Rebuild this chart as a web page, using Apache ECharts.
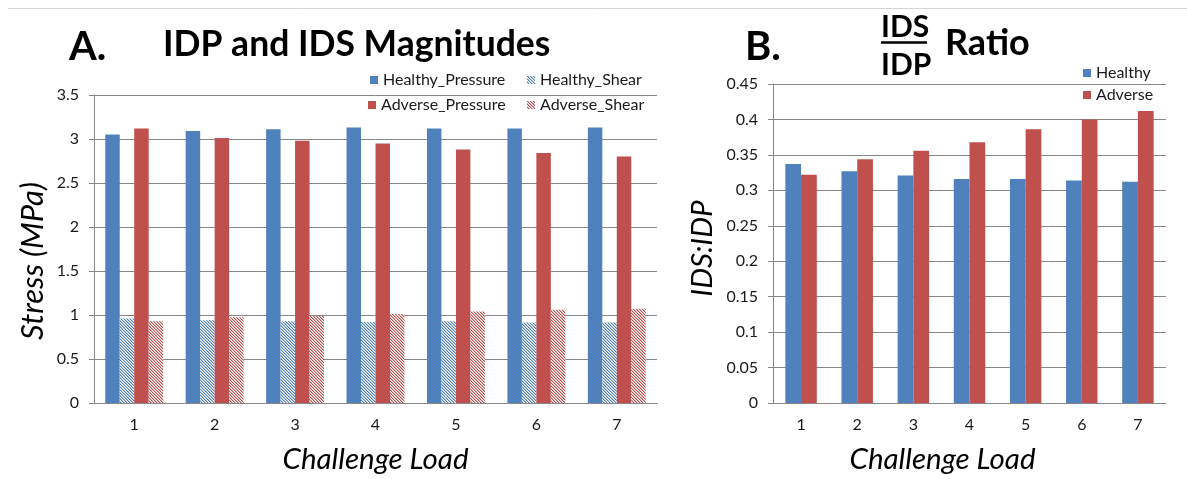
<!DOCTYPE html>
<html><head><meta charset="utf-8">
<script src="https://cdn.jsdelivr.net/npm/echarts@6/dist/echarts.min.js"></script>
<style>html,body{margin:0;padding:0;background:#fff}#c{width:1187px;height:479px}</style>
</head><body><div id="c"></div>
<script>
const categories = ['1','2','3','4','5','6','7'];
const healthyPressure = [3.05, 3.09, 3.11, 3.13, 3.12, 3.12, 3.13];
const healthyShear    = [0.96, 0.94, 0.93, 0.92, 0.93, 0.915, 0.915];
const adversePressure = [3.12, 3.01, 2.98, 2.95, 2.88, 2.84, 2.80];
const adverseShear    = [0.93, 0.975, 0.99, 1.01, 1.04, 1.06, 1.07];
const ratioHealthy = [0.337, 0.327, 0.321, 0.316, 0.316, 0.314, 0.312];
const ratioAdverse = [0.322, 0.344, 0.356, 0.368, 0.386, 0.400, 0.412];

const BLUE = '#4F81BD', RED = '#C0504D';
const FONT = 'Lato';
const AX = '#878787';

function hatch(color){
  const c = document.createElement('canvas'); c.width = 3; c.height = 3;
  const ctx = c.getContext('2d');
  ctx.fillStyle = '#fff'; ctx.fillRect(0,0,3,3);
  ctx.fillStyle = color;
  for (let y=0;y<3;y++) for (let x=0;x<3;x++) if ((((x-y)%3)+3)%3 === 0) ctx.fillRect(x,y,1,1);
  ctx.globalAlpha = 0.45;
  for (let y=0;y<3;y++) for (let x=0;x<3;x++) if ((((x-y)%3)+3)%3 === 1) ctx.fillRect(x,y,1,1);
  return {image: c, repeat: 'repeat'};
}

const chart = echarts.init(document.getElementById('c'), null, {renderer:'canvas'});
const lblStyle = {color:'#1a1a1a', fontFamily:FONT, fontSize:16};
const nameStyle = {color:'#000', fontFamily:FONT, fontSize:29.5, fontStyle:'italic'};

function mkLegend(name, left, top){
  return {data:[name], left:left, top:top, padding:0, itemWidth:8, itemHeight:8, icon:'rect',
    textStyle:{color:'#1a1a1a', fontFamily:FONT, fontSize:16}, selectedMode:false};
}

const option = {
  animation:false,
  backgroundColor:'#fff',
  grid:[
    {left:94, right:530, top:95, bottom:72},
    {left:773, right:21, top:84, bottom:71}
  ],
  legend:[
    mkLegend('Healthy_Pressure', 370, 72),
    mkLegend('Healthy_Shear', 527, 72),
    mkLegend('Adverse_Pressure', 368, 97),
    mkLegend('Adverse_Shear', 527, 97),
    mkLegend('Healthy', 1083, 65),
    mkLegend('Adverse', 1083, 87)
  ],
  xAxis:[
    {type:'category', gridIndex:0, data:categories,
     axisLine:{lineStyle:{color:AX}}, axisTick:{length:5, lineStyle:{color:AX}},
     axisLabel:Object.assign({margin:14}, lblStyle),
     name:'Challenge Load', nameLocation:'middle', nameGap:41, nameTextStyle:nameStyle},
    {type:'category', gridIndex:1, data:categories,
     axisLine:{lineStyle:{color:AX}}, axisTick:{length:5, lineStyle:{color:AX}},
     axisLabel:Object.assign({margin:14}, lblStyle),
     name:'Challenge Load', nameLocation:'middle', nameGap:41,
     nameTextStyle:Object.assign({padding:[0,54,0,0]}, nameStyle)}
  ],
  yAxis:[
    {type:'value', gridIndex:0, min:0, max:3.5, interval:0.5,
     axisLine:{show:true, lineStyle:{color:AX}}, axisTick:{show:true, length:5, lineStyle:{color:AX}},
     splitLine:{lineStyle:{color:AX}},
     axisLabel:Object.assign({margin:15}, lblStyle),
     name:'Stress (MPa)', nameLocation:'middle', nameRotate:90, nameGap:46,
     nameTextStyle:Object.assign({padding:[0,24,0,0]}, nameStyle, {fontSize:31})},
    {type:'value', gridIndex:1, min:0, max:0.45, interval:0.05,
     axisLine:{show:true, lineStyle:{color:AX}}, axisTick:{show:true, length:5, lineStyle:{color:AX}},
     splitLine:{lineStyle:{color:AX}},
     axisLabel:Object.assign({margin:15, formatter:v=>String(+v.toFixed(2))}, lblStyle),
     name:'IDS:IDP', nameLocation:'middle', nameRotate:90, nameGap:56,
     nameTextStyle:Object.assign({padding:[0,10,0,0]}, nameStyle)}
  ],
  series:[
    {name:'Healthy_Pressure', type:'bar', xAxisIndex:0, yAxisIndex:0, data:healthyPressure,
     itemStyle:{color:BLUE}, barGap:'0%', barCategoryGap:'28%'},
    {name:'Healthy_Shear', type:'bar', xAxisIndex:0, yAxisIndex:0, data:healthyShear,
     itemStyle:{color:hatch(BLUE)}, barGap:'0%', barCategoryGap:'28%'},
    {name:'Adverse_Pressure', type:'bar', xAxisIndex:0, yAxisIndex:0, data:adversePressure,
     itemStyle:{color:RED}, barGap:'0%', barCategoryGap:'28%'},
    {name:'Adverse_Shear', type:'bar', xAxisIndex:0, yAxisIndex:0, data:adverseShear,
     itemStyle:{color:hatch(RED)}, barGap:'0%', barCategoryGap:'28%'},
    {name:'Healthy', type:'bar', xAxisIndex:1, yAxisIndex:1, data:ratioHealthy,
     itemStyle:{color:BLUE}, barGap:'0%', barCategoryGap:'44%'},
    {name:'Adverse', type:'bar', xAxisIndex:1, yAxisIndex:1, data:ratioAdverse,
     itemStyle:{color:RED}, barGap:'0%', barCategoryGap:'44%'}
  ],
  graphic:[
    {type:'line', shape:{x1:8, y1:8.5, x2:1187, y2:8.5}, style:{stroke:'#d4d4d4', lineWidth:1}, silent:true},
    {type:'text', left:69, top:27, style:{text:'A.', font:'bold 40px Lato', fill:'#000'}},
    {type:'text', left:163, top:27, style:{text:'IDP and IDS Magnitudes', font:'bold 35.5px Lato', fill:'#000'}},
    {type:'text', left:745, top:27, style:{text:'B.', font:'bold 40px Lato', fill:'#000'}},
    {type:'text', left:881, top:12, style:{text:'IDS', font:'bold 30px Lato', fill:'#000'}},
    {type:'line', shape:{x1:881, y1:42.5, x2:927, y2:42.5}, style:{stroke:'#000', lineWidth:2.5}},
    {type:'text', left:881, top:50, style:{text:'IDP', font:'bold 30px Lato', fill:'#000'}},
    {type:'text', left:945, top:25, style:{text:'Ratio', font:'bold 36px Lato', fill:'#000'}}
  ]
};
chart.setOption(option);
</script></body></html>
